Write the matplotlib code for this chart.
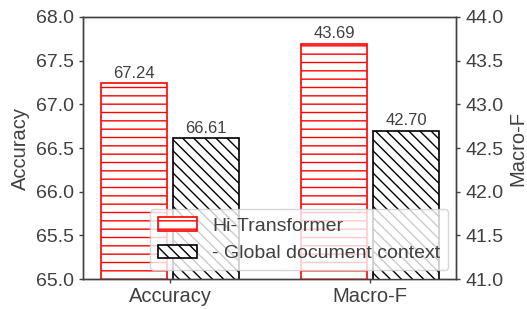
import numpy as np
import matplotlib
matplotlib.use('Agg')
import matplotlib.pyplot as plt

plt.rcParams['font.family'] = ['Liberation Sans', 'DejaVu Sans']
plt.rcParams['text.color'] = '.25'
plt.rcParams['axes.labelcolor'] = '.25'
plt.rcParams['xtick.color'] = '.25'
plt.rcParams['ytick.color'] = '.25'
plt.rcParams['axes.edgecolor'] = '.25'
plt.rcParams['hatch.linewidth'] = 1.0

metrics = ['Accuracy', 'Macro-F']
full_model = [67.24, 43.69]
no_global = [66.61, 42.70]
labels = ['Hi-Transformer', '- Global document context']

fig = plt.figure(figsize=(5.27, 3.09), dpi=100)
ax1 = fig.add_axes([0.1575, 0.097, 0.7078, 0.848])
ax2 = ax1.twinx()

w = 0.33
off = 0.18
x = np.arange(len(metrics))

b1 = ax1.bar(x[0] - off, full_model[0], w, color='white', edgecolor='red', hatch='--', linewidth=1.2)
b2 = ax1.bar(x[0] + off, no_global[0], w, color='white', edgecolor='black', hatch='\\\\\\', linewidth=1.2)
b3 = ax2.bar(x[1] - off, full_model[1], w, color='white', edgecolor='red', hatch='--', linewidth=1.2)
b4 = ax2.bar(x[1] + off, no_global[1], w, color='white', edgecolor='black', hatch='\\\\\\', linewidth=1.2)

for ax, bars in [(ax1, b1), (ax1, b2), (ax2, b3), (ax2, b4)]:
    ax.bar_label(bars, fmt='%.2f', padding=2, fontsize=12, color='.25')

ax1.set_ylim(65, 68)
ax2.set_ylim(41, 44)
ax1.set_xlim(-0.435, 1.43)
ax1.set_yticks(np.arange(65, 68.01, 0.5))
ax2.set_yticks(np.arange(41, 44.01, 0.5))
ax1.set_yticklabels(['%.1f' % v for v in np.arange(65, 68.01, 0.5)])
ax2.set_yticklabels(['%.1f' % v for v in np.arange(41, 44.01, 0.5)])
ax1.set_xticks(x)
ax1.set_xticklabels(metrics)
ax1.set_ylabel('Accuracy', fontsize=14.5, labelpad=4)
ax2.set_ylabel('Macro-F', fontsize=14.5, labelpad=4)
for ax in (ax1, ax2):
    ax.tick_params(labelsize=14, length=3, width=1, pad=3.5)
    for s in ax.spines.values():
        s.set_linewidth(1.0)
ax1.tick_params(axis='x', labelsize=14.5, pad=3)

ax2.legend([b1, b2], labels, fontsize=14, loc='lower right', bbox_to_anchor=(0.99, 0.02),
           borderaxespad=0.2)

fig.savefig('out.png', dpi=100)
